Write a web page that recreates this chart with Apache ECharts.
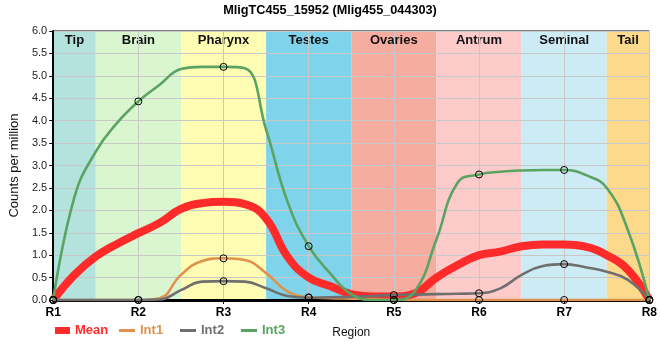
<!DOCTYPE html>
<html><head><meta charset="utf-8">
<script src="https://cdn.jsdelivr.net/npm/echarts@6/dist/echarts.min.js"></script>
<style>html,body{margin:0;padding:0;background:#fff}#c{width:660px;height:360px}</style>
</head><body><div id="c"></div>
<script>
// x-axis tick labels
const categories = ['R1', 'R2', 'R3', 'R4', 'R5', 'R6', 'R7', 'R8'];
// background regions (one centred on each R position)
const regions = ['Tip', 'Brain', 'Pharynx', 'Testes', 'Ovaries', 'Antrum', 'Seminal', 'Tail'];
const regionColors = ['#b4e3dd', '#d9f6d0', '#fffdb4', '#7fd4ec', '#f6ad9f', '#fecbcb', '#cdebf5', '#fdd98b'];
// values at every quarter step: R1, R1.25, R1.5, R1.75, R2, ... R8
const meanValues = [0, 0.56, 0.97, 1.25, 1.49, 1.72, 2.03, 2.16, 2.19, 2.14, 1.82, 0.97, 0.5, 0.31, 0.13, 0.08, 0.08, 0.15, 0.5, 0.78, 1.0, 1.08, 1.2, 1.24, 1.24, 1.19, 1.0, 0.67, 0];
const int1Values = [0, 0, 0, 0, 0, 0.04, 0.56, 0.87, 0.93, 0.89, 0.6, 0.19, 0.06, 0.04, 0.03, 0.02, 0, 0, 0, 0, 0, 0, 0, 0, 0, 0, 0, 0, 0];
const int2Values = [0, 0, 0, 0, 0, 0.01, 0.22, 0.41, 0.42, 0.41, 0.26, 0.09, 0.05, 0.06, 0.07, 0.09, 0.11, 0.12, 0.13, 0.14, 0.15, 0.26, 0.56, 0.76, 0.8, 0.73, 0.63, 0.45, 0];
const int3Values = [0, 2.3, 3.31, 3.95, 4.43, 4.8, 5.15, 5.2, 5.2, 5.17, 3.8, 2.2, 1.2, 0.6, 0.13, 0, 0, 0.2, 1.35, 2.62, 2.8, 2.86, 2.89, 2.9, 2.9, 2.79, 2.5, 1.55, 0];
const yTicks = [0, 0.5, 1, 1.5, 2, 2.5, 3, 3.5, 4, 4.5, 5, 5.5, 6];

const STEPS = 4; // samples per R interval
const SMOOTH = 0.45;
const FONT = "'Liberation Sans', Arial, sans-serif";
const colors = { Mean: '#ff2a2a', Int1: '#e0924c', Int2: '#6f6f6f', Int3: '#5ba362' };

function toPoints(values, markers) {
  return values.map((v, i) => {
    const item = { value: [i / STEPS, v] };
    if (!markers || i % STEPS !== 0) item.symbol = 'none';
    return item;
  });
}

const bandData = regions.map((r, i) => [
  { name: r, xAxis: Math.max(0, i - 0.5), itemStyle: { color: regionColors[i] } },
  { xAxis: Math.min(categories.length - 1, i + 0.5) }
]);

function intSeries(name, values) {
  return {
    name, type: 'line', data: toPoints(values, true), smooth: SMOOTH,
    symbol: 'circle', symbolSize: 7, showAllSymbol: true,
    lineStyle: { width: 2.6, color: colors[name] },
    itemStyle: { color: 'rgba(0,0,0,0)', borderColor: '#000', borderWidth: 1 },
    emphasis: { disabled: true }, z: 3
  };
}

function legendFor(name, left, icon, w, h) {
  return {
    data: [{ name, icon, itemStyle: { color: colors[name], borderWidth: 0 },
             textStyle: { color: colors[name] } }],
    left, top: 324, itemWidth: w, itemHeight: h, padding: 0,
    selectedMode: false,
    textStyle: { fontFamily: FONT, fontSize: 13, fontWeight: 'bold' }
  };
}

const chart = echarts.init(document.getElementById('c'));
chart.setOption({
  animation: false,
  backgroundColor: '#fff',
  title: {
    text: 'MligTC455_15952 (Mlig455_044303)', left: 'center', top: 4, padding: 0,
    textStyle: { fontFamily: FONT, fontSize: 12.7, fontWeight: 'bold', color: '#000' }
  },
  legend: [
    legendFor('Mean', 55, 'rect', 15, 7),
    legendFor('Int1', 119, 'path://M0,0H16V3H0Z', 16, 7),
    legendFor('Int2', 180, 'path://M0,0H16V3H0Z', 16, 7),
    legendFor('Int3', 241, 'path://M0,0H16V3H0Z', 16, 7)
  ],
  grid: { left: 50, right: 9, top: 31, bottom: 60, show: true, borderColor: '#000', borderWidth: 1, backgroundColor: 'transparent' },
  xAxis: {
    type: 'value', min: 0, max: categories.length - 1, interval: 1, z: 1.5,
    name: 'Region', nameLocation: 'middle', nameGap: 27,
    nameTextStyle: { fontFamily: FONT, fontSize: 12, color: '#111' },
    axisLine: { lineStyle: { color: '#000', width: 3 } },
    axisTick: { show: true, length: 4, lineStyle: { color: '#000' } },
    axisLabel: { formatter: v => categories[Math.round(v)], margin: 7, fontFamily: FONT, fontSize: 12, fontWeight: 'bold', color: '#000' },
    splitLine: { show: true, lineStyle: { color: '#c8c8c8', width: 1 } }
  },
  yAxis: {
    type: 'value', min: yTicks[0], max: yTicks[yTicks.length - 1], interval: yTicks[1] - yTicks[0], z: 1.5,
    name: 'Counts per million', nameLocation: 'middle', nameGap: 24,
    nameTextStyle: { fontFamily: FONT, fontSize: 13, color: '#111' },
    axisLine: { show: true, lineStyle: { color: '#000', width: 2 } },
    axisTick: { show: true, length: 4, lineStyle: { color: '#000' } },
    axisLabel: { formatter: v => v.toFixed(1), margin: 6, fontFamily: FONT, fontSize: 11, color: '#222' },
    splitLine: { show: true, lineStyle: { color: '#c8c8c8', width: 1 } }
  },
  series: [
    {
      name: 'Mean', type: 'line', data: toPoints(meanValues, false), smooth: SMOOTH,
      showSymbol: false, symbol: 'none',
      lineStyle: { width: 8, color: colors.Mean },
      itemStyle: { color: colors.Mean },
      emphasis: { disabled: true }, z: 2,
      markArea: {
        silent: true, z: 1,
        label: { show: true, position: 'insideTop', distance: 3, fontFamily: FONT, fontSize: 13, fontWeight: 'bold', color: '#111' },
        data: bandData
      }
    },
    intSeries('Int1', int1Values),
    intSeries('Int2', int2Values),
    intSeries('Int3', int3Values)
  ]
});
</script>
</body></html>
